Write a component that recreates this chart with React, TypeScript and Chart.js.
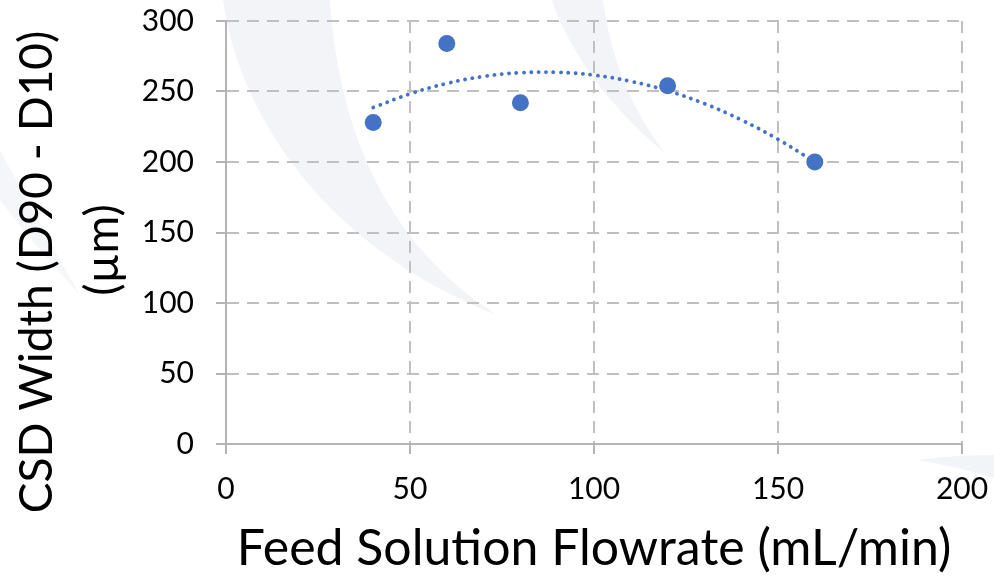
import React, { useEffect, useRef } from "react";
import { Chart, registerables } from "chart.js";

Chart.register(...registerables);

// Data
const FLOWRATE = [40, 60, 80, 120, 160];
const CSD_WIDTH = [228, 284, 242, 254, 200];

// Dotted trendline at regular x positions
const TREND_X = [40, 50, 60, 70, 80, 90, 100, 110, 120, 130, 140, 150, 160];
const TREND_Y = [238.6, 248.3, 255.7, 260.7, 263.3, 263.6, 261.6, 257.2, 250.5, 241.4, 229.9, 216.1, 200.0];

const X_TICKS = [0, 50, 100, 150, 200];
const Y_TICKS = [0, 50, 100, 150, 200, 250, 300];

const X_TITLE = "Feed Solution Flowrate (mL/min)";
const Y_TITLE = ["CSD Width (D90 - D10)", "(µm)"];

const BLUE = "#4472C4";
const FONT = "Lato, 'Open Sans', sans-serif";

// faint watermark swooshes behind the chart
const watermarkPlugin = {
  id: "watermark",
  beforeDraw(chart: any) {
    const ctx = chart.ctx as CanvasRenderingContext2D;
    ctx.save();
    ctx.fillStyle = "#f2f4f8";
    ctx.beginPath();
    ctx.moveTo(223, 0);
    ctx.bezierCurveTo(240, 120, 330, 250, 497, 315);
    ctx.bezierCurveTo(380, 240, 338, 120, 330, 0);
    ctx.closePath();
    ctx.fill();

    ctx.beginPath();
    ctx.moveTo(552, 0);
    ctx.bezierCurveTo(565, 40, 600, 100, 665, 153);
    ctx.bezierCurveTo(625, 100, 610, 50, 603, 0);
    ctx.closePath();
    ctx.fill();

    ctx.beginPath();
    ctx.moveTo(917, 460);
    ctx.quadraticCurveTo(955, 455, 994, 455);
    ctx.lineTo(994, 478);
    ctx.quadraticCurveTo(955, 466, 917, 460);
    ctx.closePath();
    ctx.fill();

    ctx.fillStyle = "#f5f6f9";
    ctx.beginPath();
    ctx.moveTo(0, 150);
    ctx.quadraticCurveTo(40, 225, 80, 295);
    ctx.quadraticCurveTo(30, 240, 0, 200);
    ctx.closePath();
    ctx.fill();
    ctx.restore();
  },
};

const yTitlePlugin = {
  id: "yTitle",
  afterDraw(chart: any) {
    const ctx = chart.ctx as CanvasRenderingContext2D;
    ctx.save();
    ctx.fillStyle = "#000";
    ctx.font = `46px ${FONT}`;
    ctx.textAlign = "center";
    ctx.textBaseline = "middle";
    const centers = [37, 103];
    const cy = [272, 250];
    Y_TITLE.forEach((line, i) => {
      ctx.save();
      ctx.translate(centers[i], cy[i]);
      ctx.rotate(-Math.PI / 2);
      ctx.fillText(line, 0, 0);
      ctx.restore();
    });
    ctx.restore();
  },
};

export default function App() {
  const ref = useRef<HTMLCanvasElement | null>(null);

  useEffect(() => {
    if (!ref.current) return;
    const chart = new Chart(ref.current, {
      type: "scatter",
      data: {
        datasets: [
          {
            label: "CSD Width",
            data: FLOWRATE.map((x, i) => ({ x, y: CSD_WIDTH[i] })),
            backgroundColor: BLUE,
            borderColor: BLUE,
            pointRadius: 8.5,
            pointBorderWidth: 0,
            showLine: false,
            order: 0,
          },
          {
            label: "Trend",
            data: TREND_X.map((x, i) => ({ x, y: TREND_Y[i] })),
            showLine: true,
            borderColor: BLUE,
            borderWidth: 3.8,
            borderDash: [0.1, 7.3],
            borderCapStyle: "round",
            pointRadius: 0,
            tension: 0.4,
            fill: false,
            order: 1,
          } as any,
        ],
      },
      options: {
        animation: false,
        responsive: true,
        maintainAspectRatio: false,
        layout: { padding: { left: 0, right: 32, top: 21, bottom: 0 } },
        plugins: {
          legend: { display: false },
          tooltip: { enabled: false },
        },
        scales: {
          x: {
            type: "linear",
            min: X_TICKS[0],
            max: X_TICKS[X_TICKS.length - 1],
            afterBuildTicks: (s: any) => {
              s.ticks = X_TICKS.map((v) => ({ value: v }));
            },
            afterFit: (s: any) => {
              s.height = 135;
              s.paddingLeft = 0;
              s.paddingRight = 0;
            },
            ticks: {
              color: "#000",
              font: { family: FONT, size: 30 },
              padding: 17,
              maxRotation: 0,
            },
            grid: {
              color: "#c0c0c0",
              lineWidth: 2,
              tickColor: "#b4b4b4",
              tickLength: 10,
              tickWidth: 2,
            },
            border: { display: true, color: "#b4b4b4", width: 2, dash: [12, 8] },
            title: {
              display: true,
              text: X_TITLE,
              color: "#000",
              font: { family: FONT, size: 50 },
              padding: { top: 0, bottom: 0 },
            },
          },
          y: {
            type: "linear",
            min: Y_TICKS[0],
            max: Y_TICKS[Y_TICKS.length - 1],
            afterBuildTicks: (s: any) => {
              s.ticks = Y_TICKS.map((v) => ({ value: v }));
            },
            afterFit: (s: any) => {
              s.width = 226;
              s.paddingTop = 0;
              s.paddingBottom = 0;
            },
            ticks: {
              color: "#000",
              font: { family: FONT, size: 30 },
              padding: 22,
            },
            grid: {
              color: "#c0c0c0",
              lineWidth: 2,
              tickColor: "#b4b4b4",
              tickLength: 10,
              tickWidth: 2,
            },
            border: { display: true, color: "#b4b4b4", width: 2, dash: [12, 8] },
          },
        },
      },
      plugins: [watermarkPlugin, yTitlePlugin],
    });
    return () => chart.destroy();
  }, []);

  return (
    <div style={{ position: "absolute", left: 0, top: 0, width: 994, height: 579, background: "#fff" }}>
      <canvas ref={ref} />
    </div>
  );
}
